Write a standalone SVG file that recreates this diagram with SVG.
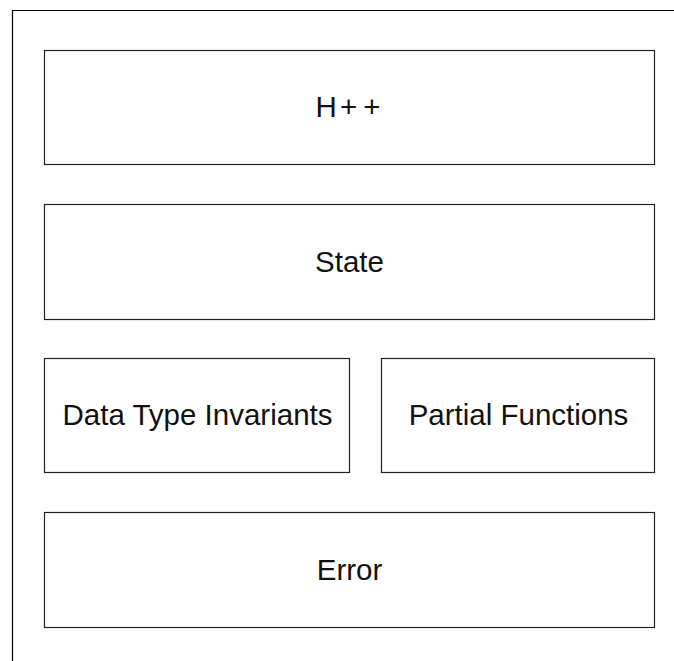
<svg xmlns="http://www.w3.org/2000/svg" width="674" height="661" viewBox="0 0 674 661">
<style>
.box{fill:#fff;stroke:#222;stroke-width:1.2}
.lbl{font-family:"Liberation Sans","DejaVu Sans",sans-serif;font-size:29.5px;fill:#111;text-anchor:middle}
</style>
<rect width="674" height="661" fill="#fff"/>
<path d="M12.5 661V10.5H674" fill="none" stroke="#000" stroke-width="1.2"/>
<g id="hpp"><rect class="box" x="44.5" y="50.5" width="610" height="114"/><text class="lbl" x="348" y="117">H<tspan dx="3">+</tspan><tspan dx="6">+</tspan></text></g>
<g id="state"><rect class="box" x="44.5" y="204.5" width="610" height="115"/><text class="lbl" x="349.5" y="272">State</text></g>
<g id="dti"><rect class="box" x="44.5" y="358.5" width="305" height="114"/><text class="lbl" x="197.5" y="425">Data Type Invariants</text></g>
<g id="pf"><rect class="box" x="381.5" y="358.5" width="273" height="114"/><text class="lbl" x="518.5" y="425">Partial Functions</text></g>
<g id="err"><rect class="box" x="44.5" y="512.5" width="610" height="115"/><text class="lbl" x="349.5" y="580">Error</text></g>
<g id="connectors"/>
</svg>
